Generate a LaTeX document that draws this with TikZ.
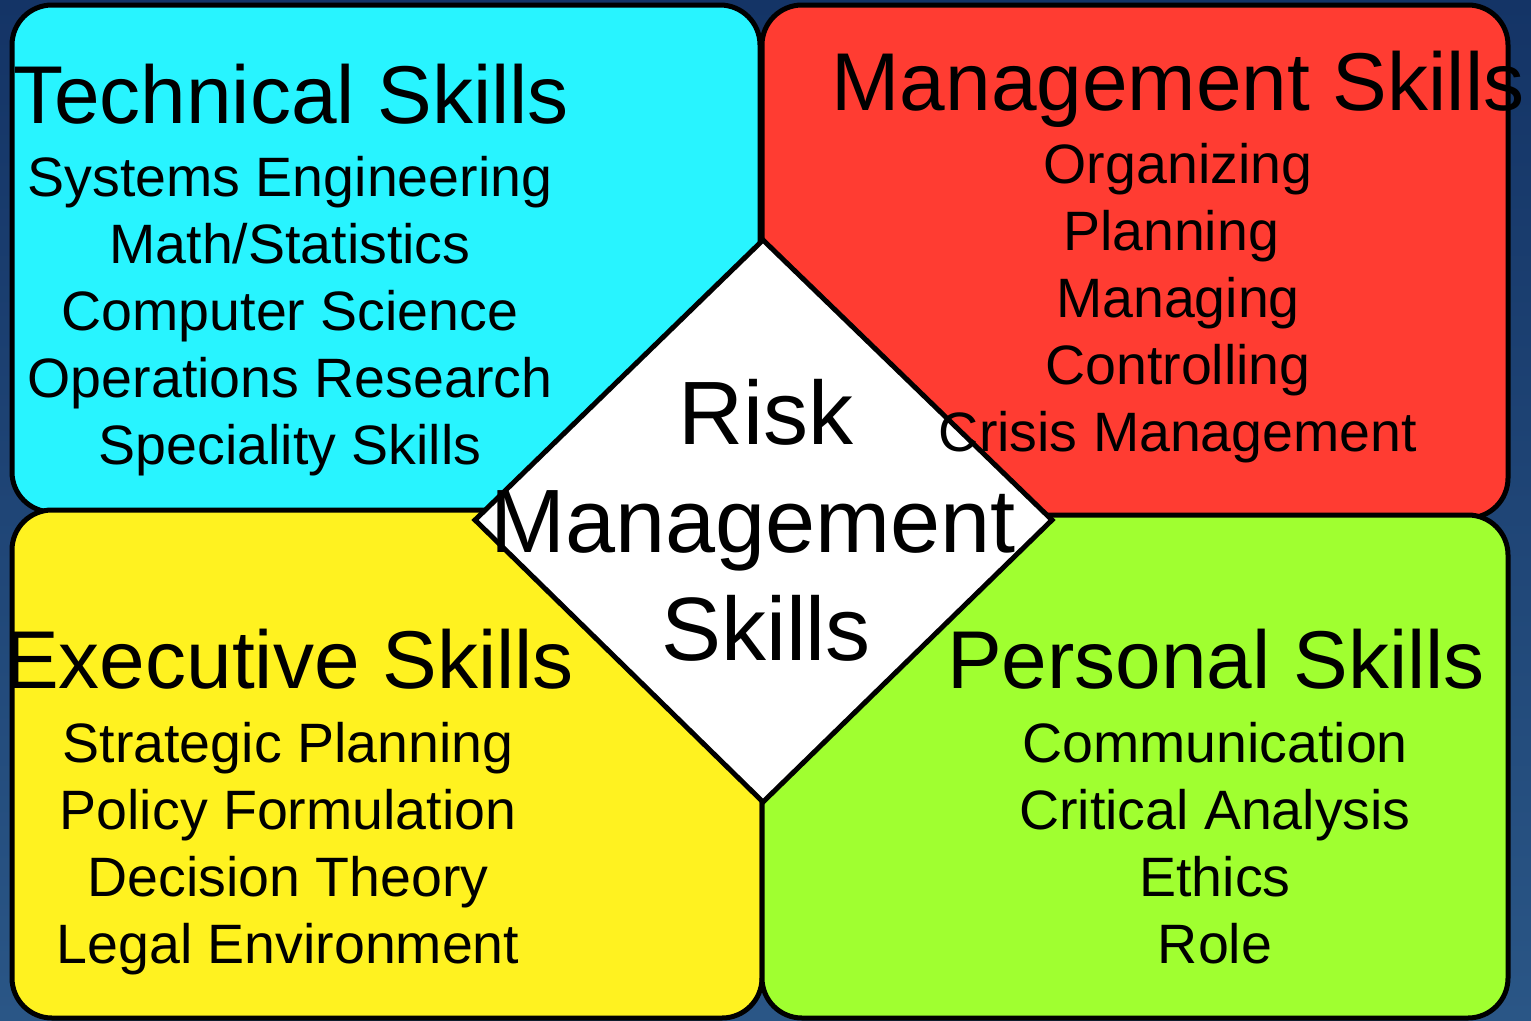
\documentclass[tikz,border=0pt]{standalone}
\usepackage{fontspec}
\setmainfont{Liberation Sans}
\usepackage{tikz}
\usetikzlibrary{positioning,calc}

\definecolor{bgtop}{RGB}{20,52,102}
\definecolor{bgbot}{RGB}{42,86,134}
\definecolor{techfill}{RGB}{40,244,255}
\definecolor{mgmtfill}{RGB}{255,60,50}
\definecolor{execfill}{RGB}{255,242,32}
\definecolor{persfill}{RGB}{160,255,48}

\tikzset{
  quad/.style={draw=black, line width=5pt, rounded corners=40pt},
  head/.style={font=\fontsize{82}{82}\selectfont, anchor=base, inner sep=0pt},
  item/.style={font=\fontsize{55.5}{55.5}\selectfont, anchor=base, inner sep=0pt},
  core/.style={font=\fontsize{90}{90}\selectfont, anchor=base, inner sep=0pt},
}

\begin{document}
\begin{tikzpicture}[x=1pt, y=-1pt]
    % Background
    \shade[top color=bgtop, bottom color=bgbot] (0,0) rectangle (1531,1020);
    \useasboundingbox (0,0) rectangle (1531,1020);

    % Four skill areas
    \draw[quad, fill=techfill] (12,5) rectangle (760,512);
    \draw[quad, fill=mgmtfill] (762,5) rectangle (1508,518);
    \draw[quad, fill=execfill] (12,510) rectangle (762,1018);
    \draw[quad, fill=persfill] (762,515) rectangle (1508,1018);

    % Centre diamond
    \coordinate (west) at (475,520);
    \coordinate (north) at (763,240);
    \coordinate (east) at (1052,520);
    \coordinate (south) at (763,802);
    \draw[line width=5pt, line join=miter, fill=white] (west) -- (north) -- (east) -- (south) -- cycle;

    % Technical Skills
    \node[head] (tech) at (291,123) {Technical Skills};
    \foreach \txt [count=\i] in {Systems Engineering, Math/Statistics, Computer Science, Operations Research, Speciality Skills}
        \node[item] (tech-\i) at (290,129+67*\i) {\txt};

    % Management Skills
    \node[head] (mgmt) at (1178,110) {Management Skills};
    \foreach \txt/\xc [count=\i] in {Organizing/1178, Planning/1171, Managing/1178, Controlling/1178, Crisis Management/1178}
        \node[item] (mgmt-\i) at (\xc,116+67*\i) {\txt};

    % Executive Skills
    \node[head] (exec) at (289,688) {Executive Skills};
    \foreach \txt [count=\i] in {Strategic Planning, Policy Formulation, Decision Theory, Legal Environment}
        \node[item] (exec-\i) at (288,695+67*\i) {\txt};

    % Personal Skills
    \node[head] (pers) at (1216,688) {Personal Skills};
    \foreach \txt [count=\i] in {Communication, Critical Analysis, Ethics, Role}
        \node[item] (pers-\i) at (1215,695+67*\i) {\txt};

    % Centre label
    \node[core] (risk) at (766,444) {Risk};
    \node[core] (mgmtword) at (753,552) {Management};
    \node[core] (skills) at (766,660) {Skills};
\end{tikzpicture}
\end{document}
